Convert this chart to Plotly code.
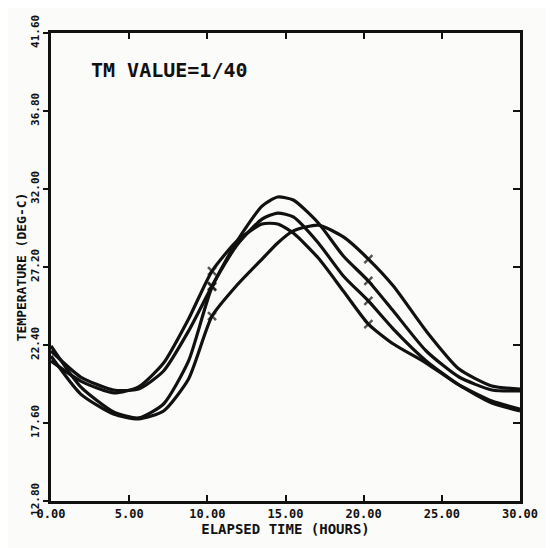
import plotly.graph_objects as go

# --- data --------------------------------------------------------------------
hours = [0, 1.9, 4.0, 5.6, 7.2, 8.8, 10.3, 11.9, 13.5, 14.5, 15.5, 17.1, 18.7,
         20.3, 21.9, 24.0, 26.1, 28.2, 30]

run_a = [22.03, 20.43, 19.63, 19.69, 20.80, 23.26, 26.03, 28.80, 30.95, 31.51,
         31.32, 29.91, 27.88, 26.34, 24.49, 22.03, 20.43, 19.63, 19.57]
run_b = [22.34, 19.82, 18.28, 17.91, 18.77, 21.42, 25.97, 28.55, 30.15, 30.52,
         30.28, 28.68, 26.65, 25.11, 23.38, 21.42, 19.94, 18.83, 18.34]
run_c = [21.42, 20.18, 19.45, 19.82, 21.29, 24.00, 26.95, 28.80, 29.85, 29.85,
         29.29, 27.75, 25.72, 23.69, 22.46, 21.29, 19.94, 18.95, 18.46]
run_d = [21.72, 19.38, 18.15, 17.85, 18.34, 20.31, 24.18, 26.09, 27.69, 28.68,
         29.42, 29.78, 29.05, 27.69, 26.03, 23.26, 20.92, 19.88, 19.69]

x_ticks = [0, 5, 10, 15, 20, 25, 30]
x_ticktext = ["0.00", "5.00", "10.00", "15.00", "20.00", "25.00", "30.00"]
y_ticks = [12.8, 17.6, 22.4, 27.2, 32.0, 36.8, 41.6]
y_ticktext = ["12.80", "17.60", "22.40", "27.20", "32.00", "36.80", "41.60"]

marked_hours = [10.3, 20.3]  # little cross marks drawn on each curve

INK = "#111"
FONT = dict(family='"DejaVu Sans Mono", monospace', color=INK, weight="bold")

fig = go.Figure()

for run in [run_a, run_b, run_c, run_d]:
    sizes = [8 if h in marked_hours else 0 for h in hours]
    fig.add_trace(go.Scatter(
        x=hours, y=run, mode="lines+markers",
        line=dict(color=INK, width=3.2, shape="spline", smoothing=0.6),
        marker=dict(symbol="x-thin", size=sizes, line=dict(color=INK, width=2.5)),
        hoverinfo="skip",
    ))

# right-hand frame ticks point inward
fig.add_trace(go.Scatter(x=[None], y=[None], yaxis="y2", showlegend=False))

fig.add_annotation(
    xref="paper", yref="paper", x=0.08, y=0.95, xanchor="left",
    text="TM VALUE=1/40", showarrow=False,
    font=dict(FONT, size=20),
)

axis_common = dict(
    showgrid=False, zeroline=False, showline=True,
    linecolor=INK, linewidth=3,
)

# page body keeps its default 8px margin, so the figure is a bit smaller
fig.update_layout(
    width=546, height=540,
    paper_bgcolor="#fbfbfa", plot_bgcolor="#fbfbfa",
    showlegend=False,
    margin=dict(l=43, r=34, t=25, b=47, autoexpand=False),
    xaxis=dict(
        axis_common, range=[0, 30], mirror="ticks",
        tickvals=x_ticks, ticktext=x_ticktext, ticklabeloverflow="allow",
        ticks="inside", ticklen=6, tickwidth=2, tickcolor=INK,
        tickfont=dict(FONT, size=12),
        title=dict(text="ELAPSED TIME (HOURS)", font=dict(FONT, size=14), standoff=0),
    ),
    yaxis=dict(
        axis_common, range=[12.8, 41.6], mirror=True,
        tickvals=y_ticks, ticktext=y_ticktext, tickangle=-90,
        ticks="outside", ticklen=5, tickwidth=2, tickcolor=INK,
        tickfont=dict(FONT, size=11),
        title=dict(text="TEMPERATURE (DEG-C)", font=dict(FONT, size=13), standoff=0),
    ),
    yaxis2=dict(
        overlaying="y", side="right", range=[12.8, 41.6],
        tickvals=y_ticks, showticklabels=False,
        ticks="inside", ticklen=7, tickwidth=2, tickcolor=INK,
        showgrid=False, zeroline=False, showline=False,
    ),
)

fig.write_html("out.html")
